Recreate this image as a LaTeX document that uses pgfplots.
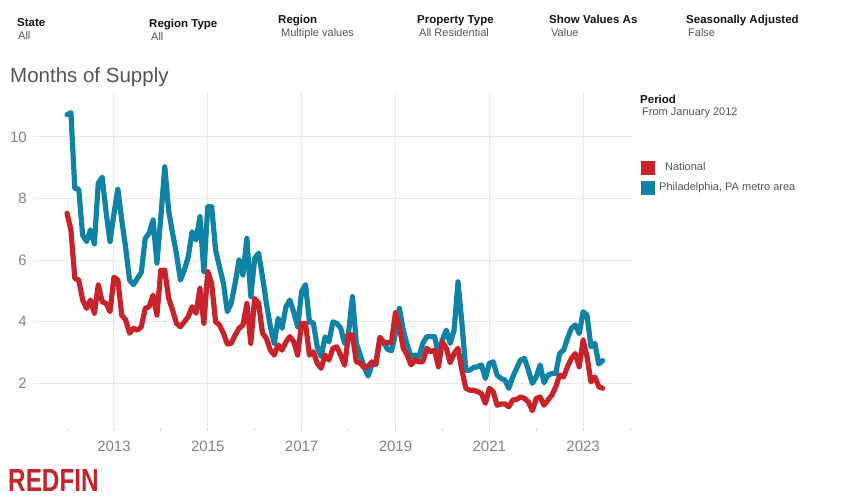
\documentclass[border=0pt]{standalone}
\usepackage{pgfplots}
\pgfplotsset{compat=1.18}
\usepackage{pgfplotstable}
\usepackage{graphicx}
\usepackage{fontspec}
\setmainfont{Liberation Sans}

\definecolor{natred}{RGB}{200,35,42}
\definecolor{phlblue}{RGB}{16,130,166}
\definecolor{gridgray}{RGB}{233,233,233}
\definecolor{ticktext}{RGB}{130,130,130}
\definecolor{titletext}{RGB}{85,85,85}
\definecolor{hdrval}{RGB}{85,85,85}
\definecolor{hdrlab}{RGB}{20,20,20}

% months since Jan 2012
\pgfplotstableread{
m  nat   phl
0  7.52 10.72
1  6.98 10.79
2  5.40  8.33
3  5.35  8.30
4  4.70  6.81
5  4.43  6.60
6  4.70  6.98
7  4.27  6.52
8  5.19  8.49
9  4.64  8.69
10 4.59  7.55
11 4.32  6.60
12 5.44  7.50
13 5.35  8.30
14 4.21  7.30
15 4.05  6.40
16 3.62  5.35
17 3.78  5.20
18 3.72  5.40
19 3.83  5.60
20 4.43  6.70
21 4.48  6.87
22 4.86  7.30
23 4.21  5.90
24 5.67  7.40
25 5.67  9.03
26 4.75  7.60
27 4.37  6.87
28 3.94  6.20
29 3.83  5.35
30 3.99  5.67
31 4.16  6.10
32 4.48  6.92
33 4.27  6.65
34 5.08  7.41
35 3.94  5.62
36 5.62  7.73
37 5.24  7.73
38 3.99  6.32
39 3.89  5.78
40 3.62  5.24
41 3.27  4.32
42 3.29  4.59
43 3.56  5.24
44 3.78  6.00
45 3.89  5.51
46 4.59  6.70
47 3.29  4.81
48 4.75  6.05
49 4.59  6.22
50 3.62  5.46
51 3.45  4.59
52 3.07  3.83
53 2.91  3.29
54 3.24  4.10
55 3.07  3.78
56 3.34  4.48
57 3.51  4.70
58 3.34  4.30
59 2.91  3.83
60 3.94  4.97
61 3.94  5.20
62 2.91  3.99
63 3.02  3.95
64 2.64  3.18
65 2.48  2.86
66 2.91  3.50
67 2.75  3.34
68 3.13  3.99
69 3.18  3.94
70 2.90  3.78
71 2.58  3.29
72 3.56  3.62
73 3.56  4.81
74 2.69  3.29
75 2.65  2.91
76 2.50  2.53
77 2.55  2.23
78 2.69  2.59
79 2.60  2.70
80 3.49  3.40
81 3.34  3.30
82 3.30  3.10
83 3.35  3.05
84 4.29  3.60
85 3.83  4.43
86 3.13  3.72
87 2.91  3.24
88 2.59  2.86
89 2.75  2.91
90 2.69  2.86
91 2.69  3.29
92 3.13  3.51
93 3.02  3.51
94 3.07  3.51
95 2.53  2.96
96 3.34  3.40
97 3.13  3.72
98 2.66  3.29
99 2.96  3.72
100 3.13 5.29
101 2.42 3.94
102 1.83 2.42
103 1.77 2.42
104 1.77 2.51
105 1.72 2.53
106 1.66 2.59
107 1.34 2.15
108 1.83 2.64
109 1.72 2.69
110 1.28 2.26
111 1.32 2.15
112 1.32 2.10
113 1.23 1.83
114 1.45 2.20
115 1.47 2.48
116 1.55 2.75
117 1.50 2.80
118 1.39 2.42
119 1.10 1.99
120 1.50 2.20
121 1.55 2.59
122 1.28 2.01
123 1.45 2.26
124 1.61 2.31
125 1.88 2.31
126 2.26 2.96
127 2.20 3.07
128 2.53 3.45
129 2.80 3.78
130 2.96 3.89
131 2.53 3.61
132 3.40 4.32
133 2.86 4.21
134 2.04 3.18
135 2.20 3.29
136 1.88 2.62
137 1.83 2.73
}\supply

\begin{document}
\begin{tikzpicture}[x=1pt,y=1pt]
\useasboundingbox (0,0) rectangle (849,499);

% filter header
\begin{scope}[every node/.style={anchor=base west, inner sep=0pt}]
\node[font=\fontsize{11.5}{12}\selectfont\bfseries, text=hdrlab] at (17,472.5) {State};
\node[font=\fontsize{11}{12}\selectfont, text=hdrval] at (18,459) {All};
\node[font=\fontsize{11.5}{12}\selectfont\bfseries, text=hdrlab] at (149,471.5) {Region Type};
\node[font=\fontsize{11}{12}\selectfont, text=hdrval] at (151,458) {All};
\node[font=\fontsize{11.5}{12}\selectfont\bfseries, text=hdrlab] at (278,475.5) {Region};
\node[font=\fontsize{11}{12}\selectfont, text=hdrval] at (281,462) {Multiple values};
\node[font=\fontsize{11.5}{12}\selectfont\bfseries, text=hdrlab] at (417,475.5) {Property Type};
\node[font=\fontsize{11}{12}\selectfont, text=hdrval] at (419,462) {All Residential};
\node[font=\fontsize{11.5}{12}\selectfont\bfseries, text=hdrlab] at (549,475.5) {Show Values As};
\node[font=\fontsize{11}{12}\selectfont, text=hdrval] at (551,462) {Value};
\node[font=\fontsize{11.5}{12}\selectfont\bfseries, text=hdrlab] at (686,475.5) {Seasonally Adjusted};
\node[font=\fontsize{11}{12}\selectfont, text=hdrval] at (688,462) {False};
\node[font=\fontsize{20.5}{22}\selectfont, text=titletext] at (10,416) {Months of Supply};
\node[font=\fontsize{11.5}{12}\selectfont\bfseries, text=hdrlab] at (640,395.5) {Period};
\node[font=\fontsize{11}{12}\selectfont, text=hdrval] at (642,383) {From January 2012};
\node[font=\fontsize{32}{32}\selectfont\bfseries, text=natred] at (8,8) {\scalebox{0.76}[1]{REDFIN}};
\end{scope}

\begin{axis}[
  at={(33pt,71pt)}, anchor=south west,
  scale only axis, width=599pt, height=336pt,
  xmin=-8.7, xmax=144.5,
  ymin=0.54, ymax=11.46,
  xtick={12,36,60,84,108,132},
  xticklabels={2013,2015,2017,2019,2021,2023},
  minor xtick={0,24,48,72,96,120,144},
  ytick={2,4,6,8,10},
  xmajorgrids, ymajorgrids,
  major grid style={gridgray, line width=0.9pt},
  axis line style={draw=none},
  tick pos=left,
  tick align=outside,
  major tick length=3pt, minor tick length=3pt,
  xtick style={gridgray!80!gray, line width=0.8pt},
  ytick style={draw=none},
  /pgf/number format/assume math mode=true,
  tick label style={font=\fontsize{15}{15}\selectfont, text=ticktext},
  xticklabel style={anchor=base, inner sep=0pt, yshift=-20.5pt},
  yticklabel style={anchor=east, inner sep=0pt, xshift=-3pt},
  legend style={draw=none, fill=none, at={(1.015,0.796)}, anchor=north west,
    font=\fontsize{11}{12}\selectfont, text=hdrval, row sep=6pt,
    column sep=2pt, inner sep=0pt, nodes={inner sep=0pt}},
  legend cell align=left,
  legend image code/.code={\path[fill=#1, draw=none] (0pt,-7pt) rectangle (14pt,7pt);},
  every axis plot/.append style={line width=5.2pt, line join=round, line cap=round},
]
\addlegendimage{natred}
\addlegendentry{\hspace{8pt}National}
\addlegendimage{phlblue}
\addlegendentry{\hspace{2pt}Philadelphia, PA metro area}
\addplot[color=phlblue, forget plot] table[x=m, y=phl] {\supply};
\addplot[color=natred, forget plot] table[x=m, y=nat] {\supply};
\end{axis}
\end{tikzpicture}
\end{document}
